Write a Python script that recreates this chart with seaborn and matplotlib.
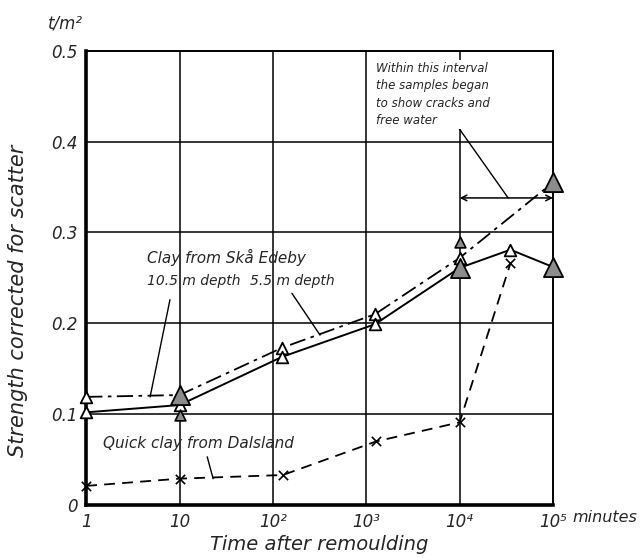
import seaborn as sns
import matplotlib.pyplot as plt

# strength of remoulded clay vs time after remoulding
time_quick = [1, 10, 128, 1280, 1e4, 3.5e4]
strength_quick = [0.021, 0.029, 0.033, 0.070, 0.091, 0.266]

time_deep = [1, 10, 125, 1240, 1e4, 1e5]
strength_deep = [0.119, 0.121, 0.173, 0.210, 0.272, 0.355]

time_shallow = [1, 10, 125, 1240, 1e4, 3.5e4, 1e5]
strength_shallow = [0.102, 0.110, 0.163, 0.199, 0.261, 0.281, 0.262]

# marker groups
open_t = [1, 1, 10, 125, 125, 1240, 1240, 1e4, 3.5e4]
open_s = [0.119, 0.102, 0.110, 0.173, 0.163, 0.210, 0.199, 0.272, 0.281]
big_t = [10, 1e4, 1e5, 1e5]
big_s = [0.121, 0.261, 0.262, 0.355]
small_t = [10, 1e4]
small_s = [0.099, 0.289]

x_ticks = [1, 10, 100, 1000, 1e4, 1e5]
x_labels = ["1", "10", "10²", "10³", "10⁴", "10⁵"]
y_ticks = [0, 0.1, 0.2, 0.3, 0.4, 0.5]
y_labels = ["0", "0.1", "0.2", "0.3", "0.4", "0.5"]

sns.set_style("white")
plt.rcParams['font.family'] = ['DejaVu Sans']
plt.rcParams['font.style'] = 'italic'

fig = plt.figure(figsize=(6.43, 5.58), dpi=100)
ax = fig.add_axes([0.134, 0.095, 0.726, 0.814])
ax.set_xscale("log")
ax.set_xlim(1, 1e5)
ax.set_ylim(0, 0.5)

for v in x_ticks[1:-1]:
    ax.axvline(v, color="black", lw=1.1, zorder=1)
for v in y_ticks[1:-1]:
    ax.axhline(v, color="black", lw=1.1, zorder=1)

sns.lineplot(x=time_quick, y=strength_quick, ax=ax, color="black", lw=1.3,
             sort=False, estimator=None, zorder=3)
ax.lines[-1].set_dashes([6, 4])
sns.lineplot(x=time_deep, y=strength_deep, ax=ax, color="black", lw=1.3,
             sort=False, estimator=None, zorder=3)
ax.lines[-1].set_dashes([9, 3, 2, 3])
sns.lineplot(x=time_shallow, y=strength_shallow, ax=ax, color="black", lw=1.4,
             sort=False, estimator=None, zorder=3)

sns.scatterplot(x=time_quick, y=strength_quick, ax=ax, marker="x", s=45,
                color="black", linewidth=1.2, zorder=4)
sns.scatterplot(x=open_t, y=open_s, ax=ax, marker="^", s=70,
                facecolor="white", edgecolor="black", linewidth=1.3, zorder=5)
sns.scatterplot(x=big_t, y=big_s, ax=ax, marker="^", s=190,
                facecolor="#8c8c8c", edgecolor="black", linewidth=1.3, zorder=5)
sns.scatterplot(x=small_t, y=small_s, ax=ax, marker="^", s=60,
                facecolor="#8c8c8c", edgecolor="black", linewidth=1.2, zorder=5)
for coll in ax.collections:
    coll.set_clip_on(False)

ax.set_xticks(x_ticks)
ax.set_xticklabels(x_labels, fontsize=12)
ax.set_yticks(y_ticks)
ax.set_yticklabels(y_labels, fontsize=12)
ax.minorticks_off()
ax.tick_params(length=0, pad=6)

for side in ["left", "bottom"]:
    ax.spines[side].set_linewidth(2.6)
for side in ["top", "right"]:
    ax.spines[side].set_linewidth(1.4)
for s in ax.spines.values():
    s.set_color("black")

ax.set_xlabel("Time after remoulding", fontsize=14, labelpad=3)
ax.set_ylabel("Strength corrected for scatter", fontsize=15)
ax.yaxis.set_label_coords(-0.125, 0.45)
fig.text(0.074, 0.958, "t/m²", fontsize=12, ha="left", va="center")
fig.text(0.891, 0.072, "minutes", fontsize=11.5, ha="left", va="center")

# labels and leader lines
ax.text(4.5, 0.272, "Clay from Skå Edeby", fontsize=11, va="center")
ax.text(4.5, 0.247, "10.5 m depth", fontsize=10, va="center")
ax.text(57, 0.247, "5.5 m depth", fontsize=10, va="center")
ax.plot([7.9, 4.84], [0.226, 0.119], color="black", lw=1.0, zorder=3)
ax.plot([160, 320], [0.233, 0.187], color="black", lw=1.0, zorder=3)

ax.text(1.52, 0.068, "Quick clay from Dalsland", fontsize=11, va="center")
ax.plot([19.8, 22.9], [0.053, 0.029], color="black", lw=1.0, zorder=3)

ax.text(21100, 0.488, "Within this interval\nthe samples began\nto show cracks and\nfree water",
        fontsize=8.5, ha="right", va="top", multialignment="left", linespacing=1.45,
        bbox=dict(facecolor="white", edgecolor="none", pad=1), zorder=6)
ax.plot([10**3.97, 10**4.52], [0.418, 0.338], color="black", lw=1.0, zorder=3)
ax.annotate("", xy=(1e5, 0.338), xytext=(1e4, 0.338),
            arrowprops=dict(arrowstyle="<->", color="black", lw=1.1,
                            shrinkA=0, shrinkB=0), zorder=3)

fig.savefig("out.png", dpi=100)
